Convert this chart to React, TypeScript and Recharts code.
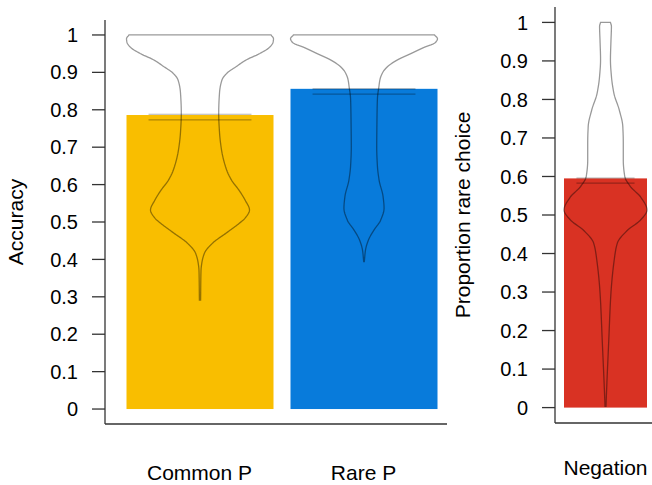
import React from 'react';
import { BarChart, Bar, XAxis, YAxis, Cell } from 'recharts';

// ---------- data ----------
const leftCategories = ['Common P', 'Rare P'];
const leftMeans = [0.786, 0.856];
const leftErrLow = [0.773, 0.842];
const leftErrHigh = [0.788, 0.856];
const leftColors = ['#F9BE00', '#087BDB'];

const rightCategories = ['Negation'];
const rightMeans = [0.595];
const rightErrLow = [0.583];
const rightErrHigh = [0.596];
const rightColors = ['#D93223'];

const yTicks = [0, 0.1, 0.2, 0.3, 0.4, 0.5, 0.6, 0.7, 0.8, 0.9, 1];

// violin densities (arbitrary units, scaled to bar width at their max)
const commonViolinValues = [1.0, 0.99, 0.98, 0.967, 0.95, 0.933, 0.915, 0.898, 0.88, 0.845, 0.79, 0.74, 0.693, 0.64, 0.612, 0.585, 0.559, 0.532, 0.51, 0.497, 0.47, 0.444, 0.417, 0.39, 0.37, 0.291];
const commonViolinDensity = [71, 73.5, 73, 69.5, 59.5, 46, 36, 27, 22, 19.5, 18.7, 19.5, 21.5, 26.5, 31.5, 39, 45, 49.5, 45, 39.5, 26, 12.8, 4.5, 1.8, 1, 0.6];

const rareViolinValues = [1.0, 0.99, 0.98, 0.967, 0.95, 0.933, 0.915, 0.898, 0.88, 0.862, 0.829, 0.76, 0.7, 0.65, 0.612, 0.568, 0.537, 0.505, 0.479, 0.452, 0.425, 0.394];
const rareViolinDensity = [71, 74, 72, 60.5, 47, 33.5, 23.5, 18.5, 16, 15, 13.5, 13, 12.8, 13.5, 15.2, 19.2, 20.2, 16.8, 10.2, 4.5, 1.5, 0.3];

const negationViolinValues = [1.0, 0.99, 0.95, 0.903, 0.86, 0.816, 0.772, 0.73, 0.687, 0.643, 0.6, 0.573, 0.547, 0.513, 0.487, 0.461, 0.427, 0.383, 0.297, 0.168, 0.038, 0.003];
const negationViolinDensity = [5, 6, 5.5, 5, 6, 8.5, 14, 17.5, 18, 18, 19.5, 25.5, 35.5, 42, 35.5, 22.5, 12, 8.8, 5.5, 3.2, 1, 0.5];

const leftViolins = [
  { values: commonViolinValues, density: commonViolinDensity },
  { values: rareViolinValues, density: rareViolinDensity },
];
const rightViolins = [{ values: negationViolinValues, density: negationViolinDensity }];

const leftData = leftCategories.map((name, i) => ({
  name,
  value: leftMeans[i],
  lo: leftErrLow[i],
  hi: leftErrHigh[i],
  violin: leftViolins[i],
}));
const rightData = rightCategories.map((name, i) => ({
  name,
  value: rightMeans[i],
  lo: rightErrLow[i],
  hi: rightErrHigh[i],
  violin: rightViolins[i],
}));

// ---------- helpers ----------
function monotoneInterp(xs: number[], ys: number[]) {
  const n = xs.length;
  const dx: number[] = [];
  const s: number[] = [];
  for (let i = 0; i < n - 1; i++) {
    dx.push(xs[i + 1] - xs[i]);
    s.push((ys[i + 1] - ys[i]) / dx[i]);
  }
  const m: number[] = new Array(n).fill(0);
  m[0] = s[0];
  m[n - 1] = s[n - 2];
  for (let i = 1; i < n - 1; i++) {
    if (s[i - 1] * s[i] <= 0) m[i] = 0;
    else {
      const h0 = dx[i - 1];
      const h1 = dx[i];
      m[i] = (3 * (h0 + h1)) / ((2 * h1 + h0) / s[i - 1] + (h1 + 2 * h0) / s[i]);
    }
  }
  return (x: number) => {
    let i = 0;
    while (i < n - 2 && x > xs[i + 1]) i++;
    const h = dx[i];
    const t = Math.max(0, Math.min(1, (x - xs[i]) / h));
    const t2 = t * t;
    const t3 = t2 * t;
    return (
      (2 * t3 - 3 * t2 + 1) * ys[i] +
      (t3 - 2 * t2 + t) * h * m[i] +
      (-2 * t3 + 3 * t2) * ys[i + 1] +
      (t3 - t2) * h * m[i + 1]
    );
  };
}

const VIOLIN_STROKE = 'rgba(0,0,0,0.4)';
const ERR_STROKE = 'rgba(0,0,0,0.3)';

const ViolinBar = (props: any) => {
  const { x, y, width, height, payload, fill } = props;
  if (!payload || !height) return null;
  const base = y + height;
  const k = height / payload.value;
  const sy = (v: number) => base - v * k;
  const cx = x + width / 2;
  const vals = [...payload.violin.values].reverse();
  const dens = [...payload.violin.density].reverse();
  const f = monotoneInterp(vals, dens);
  const maxD = Math.max(...dens);
  const vmin = vals[0];
  const vmax = vals[vals.length - 1];
  const N = 300;
  const samples: number[] = [];
  for (let i = 0; i <= N; i++) samples.push(vmin + ((vmax - vmin) * i) / N);
  const hw = (v: number) => (Math.max(0, f(v)) / maxD) * (width / 2);
  const right = samples
    .slice()
    .reverse()
    .map((v) => `${(cx + hw(v)).toFixed(2)},${sy(v).toFixed(2)}`);
  const left = samples.map((v) => `${(cx - hw(v)).toFixed(2)},${sy(v).toFixed(2)}`);
  const d = `M${right.join('L')}L${left.join('L')}Z`;
  const ew = width * 0.35;
  return (
    <g>
      <rect x={x} y={y} width={width} height={height} fill={fill} />
      <line x1={cx - ew} x2={cx + ew} y1={sy(payload.lo)} y2={sy(payload.lo)} stroke={ERR_STROKE} strokeWidth={1.2} />
      <line x1={cx - ew} x2={cx + ew} y1={sy(payload.hi)} y2={sy(payload.hi)} stroke={ERR_STROKE} strokeWidth={1.2} />
      <path d={d} fill="none" stroke={VIOLIN_STROKE} strokeWidth={1.3} />
    </g>
  );
};

const AxisTitle = (props: any) => {
  const { viewBox, text, bx } = props;
  if (!viewBox) return null;
  const tx = viewBox.x + bx;
  const ty = viewBox.y + viewBox.height / 2;
  return (
    <text x={tx} y={ty} transform={`rotate(-90 ${tx} ${ty})`} textAnchor="middle" fontSize={21} fill="#000">
      {text}
    </text>
  );
};

const FONT = '"Liberation Sans", Arial, Helvetica, sans-serif';
const AXIS_COLOR = '#333';

export default function App() {
  return (
    <div
      style={{
        position: 'absolute',
        left: 0,
        top: 0,
        width: 652,
        height: 485,
        overflow: 'hidden',
        background: '#fff',
        fontFamily: FONT,
      }}
    >
      <div style={{ position: 'absolute', left: 0, top: 0 }}>
        <BarChart width={460} height={485} data={leftData} margin={{ top: 20, right: 13, bottom: 0, left: 0 }}>
          <XAxis
            dataKey="name"
            interval={0}
            height={61}
            padding={{ left: 12.5, right: 1.5 }}
            axisLine={{ stroke: AXIS_COLOR, strokeWidth: 1.3 }}
            tickLine={false}
            tickSize={0}
            tickMargin={41}
            tick={{ fontSize: 21, fill: '#000' }}
          />
          <YAxis
            type="number"
            domain={[-0.04, 1.04]}
            allowDataOverflow
            ticks={yTicks}
            interval={0}
            width={105}
            axisLine={{ stroke: AXIS_COLOR, strokeWidth: 1.3 }}
            tickLine={{ stroke: AXIS_COLOR, strokeWidth: 1.3 }}
            tickSize={13}
            tickMargin={14}
            tick={{ fontSize: 20, fill: '#000' }}
            label={<AxisTitle text="Accuracy" bx={23} />}
          />
          <Bar dataKey="value" barSize={147} shape={ViolinBar} isAnimationActive={false}>
            {leftData.map((_, i) => (
              <Cell key={i} fill={leftColors[i]} />
            ))}
          </Bar>
        </BarChart>
      </div>
      <div style={{ position: 'absolute', left: 440, top: 0 }}>
        <BarChart width={212} height={485} data={rightData} margin={{ top: 7, right: 0, bottom: 0, left: 0 }}>
          <XAxis
            dataKey="name"
            interval={0}
            height={62}
            padding={{ left: 4, right: 0 }}
            axisLine={{ stroke: AXIS_COLOR, strokeWidth: 1.3 }}
            tickLine={false}
            tickSize={0}
            tickMargin={37}
            tick={{ fontSize: 21, fill: '#000' }}
          />
          <YAxis
            type="number"
            domain={[-0.04, 1.04]}
            allowDataOverflow
            ticks={yTicks}
            interval={0}
            width={115}
            axisLine={{ stroke: AXIS_COLOR, strokeWidth: 1.3 }}
            tickLine={{ stroke: AXIS_COLOR, strokeWidth: 1.3 }}
            tickSize={13}
            tickMargin={14}
            tick={{ fontSize: 20, fill: '#000' }}
            label={<AxisTitle text="Proportion rare choice" bx={30} />}
          />
          <Bar dataKey="value" barSize={83} shape={ViolinBar} isAnimationActive={false}>
            {rightData.map((_, i) => (
              <Cell key={i} fill={rightColors[i]} />
            ))}
          </Bar>
        </BarChart>
      </div>
    </div>
  );
}
